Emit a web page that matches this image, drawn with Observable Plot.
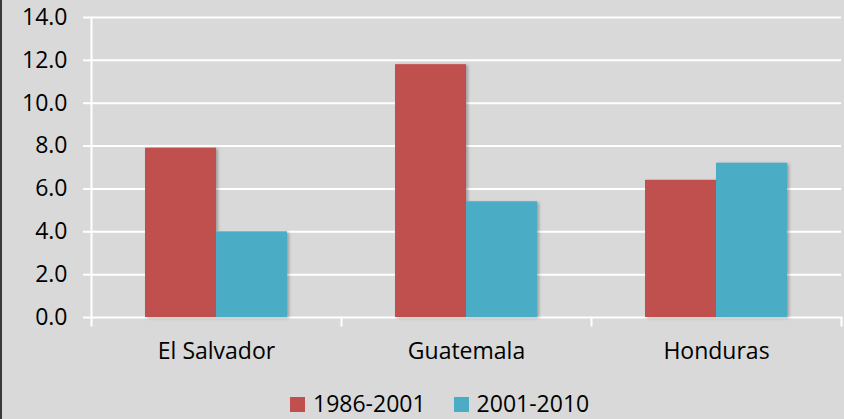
<!DOCTYPE html>
<html><head><meta charset="utf-8">
<script src="https://cdn.jsdelivr.net/npm/d3@7"></script>
<script src="https://cdn.jsdelivr.net/npm/@observablehq/plot@0.6"></script>
<style>
body{margin:0;background:#d9d9d9;}
#wrap{position:relative;width:844px;height:419px;background:#d9d9d9;overflow:hidden;font-family:"Open Sans",sans-serif;}
#edge{position:absolute;left:0;top:0;width:2px;height:419px;background:#3a3a3a;}
#chart{position:absolute;left:0;top:0;}
#legend{position:absolute;left:290px;top:392px;font-size:23px;line-height:22px;color:#000;white-space:nowrap;}
#legend .sw{display:inline-block;width:15px;height:15px;vertical-align:baseline;margin-right:8px;}
#legend .item{display:inline-block;margin-right:28px;}
g[aria-label="y-axis tick"]{stroke:#fff;}
g[aria-label="bar"] rect{filter:drop-shadow(2px 1px 1.5px rgba(0,0,0,0.28));}
</style>
</head><body>
<div id="wrap"><div id="chart"></div><div id="legend"></div><div id="edge"></div></div>
<script>
const countries = ["El Salvador", "Guatemala", "Honduras"];
const periods = ["1986-2001", "2001-2010"];
const values1986 = [7.9, 11.8, 6.4];
const values2001 = [4.0, 5.4, 7.2];
const colors = ["#c0504d", "#4bacc6"];
const yTicks = [0, 2, 4, 6, 8, 10, 12, 14];

const data = countries.flatMap((c, i) => [
  {country: c, period: periods[0], value: values1986[i]},
  {country: c, period: periods[1], value: values2001[i]}
]);

const chart = Plot.plot({
  width: 844, height: 378,
  marginLeft: 90, marginRight: 2, marginTop: 17, marginBottom: 61,
  style: {background: "transparent", fontFamily: "'Open Sans', sans-serif", fontSize: "23px", color: "black", overflow: "visible"},
  fx: {domain: countries, padding: 0, label: null},
  x: {domain: periods, paddingInner: 0, paddingOuter: 0.75, axis: null},
  y: {domain: [0, 14], axis: null},
  color: {domain: periods, range: colors},
  marks: [
    Plot.ruleY(yTicks, {stroke: "white", strokeWidth: 2}),
    Plot.barY(data, {fx: "country", x: "period", y: "value", fill: "period"}),
    Plot.frame({anchor: "left", facet: "super", stroke: "white", strokeWidth: 2, insetBottom: -8}),
    Plot.frame({anchor: "right", stroke: "white", strokeWidth: 2, insetTop: 300, insetBottom: -8}),
    Plot.axisY({ticks: yTicks, tickFormat: d3.format(".1f"), tickSize: 8, tickPadding: 16, stroke: "white", strokeWidth: 2, fill: "black", fontSize: 23, label: null}),
    Plot.axisFx({anchor: "bottom", tickSize: 0, tickPadding: 25, fill: "black", fontSize: 23, label: null})
  ]
});
document.getElementById("chart").appendChild(chart);

const legend = document.getElementById("legend");
periods.forEach((p, i) => {
  const item = document.createElement("span");
  item.className = "item";
  const sw = document.createElement("span");
  sw.className = "sw";
  sw.style.background = colors[i];
  item.appendChild(sw);
  item.appendChild(document.createTextNode(p));
  legend.appendChild(item);
});
</script>
</body></html>
